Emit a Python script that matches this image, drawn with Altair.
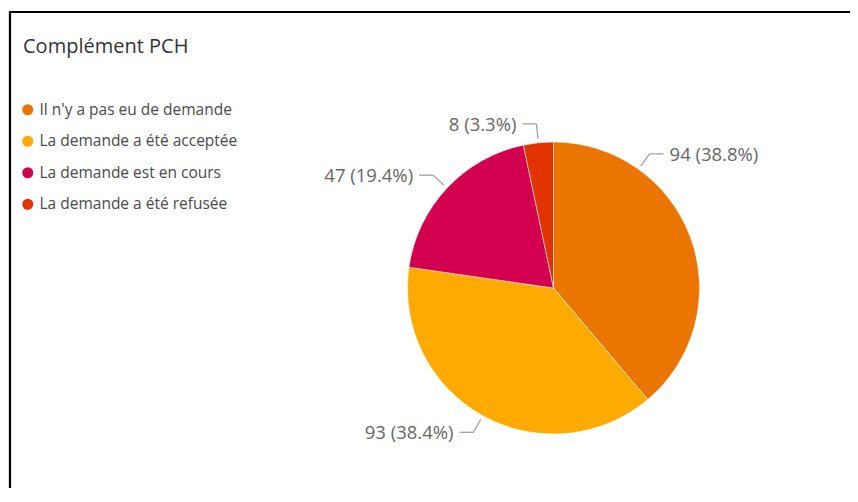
import math
import altair as alt
import pandas as pd

# ---- data ----
categories = [
    "Il n'y a pas eu de demande",
    "La demande a été acceptée",
    "La demande est en cours",
    "La demande a été refusée",
]
counts = [94, 93, 47, 8]
colors = ["#EA7500", "#FFAA00", "#D2004E", "#E23400"]
title_text = "Complément PCH"

# ---- layout ----
W, H = 842, 480
CX, CY = 545.5, 280
R = 146
R_START = 150
R_ELBOW = 165
HSEG = 14
GAP = 6
FONT = "Open Sans"
# the first connector sits off the slice's mid-angle in the reference
LABEL_ANGLE_OVERRIDE = {0: 35.6}

total = sum(counts)
rows = []
cum = 0
for i, (c, v) in enumerate(zip(categories, counts)):
    mid = (cum + v / 2) / total * 360
    cum += v
    ang = LABEL_ANGLE_OVERRIDE.get(i, mid)
    a = math.radians(ang)
    sx, sy = math.sin(a), -math.cos(a)
    x0, y0 = CX + R_START * sx, CY + R_START * sy
    x1, y1 = CX + R_ELBOW * sx, CY + R_ELBOW * sy
    side = "R" if sx >= 0 else "L"
    x2 = x1 + HSEG if side == "R" else x1 - HSEG
    tx = x2 + GAP if side == "R" else x2 - GAP
    rows.append(dict(cat=c, value=v, order=i,
                     label=f"{v} ({v / total * 100:.1f}%)",
                     x0=x0, y0=y0, x1=x1, y1=y1, x2=x2, tx=tx, side=side))
df = pd.DataFrame(rows)

base = alt.Chart(df)

pie = base.mark_arc(radius=R, stroke="white", strokeWidth=0.5).encode(
    theta=alt.Theta("value:Q", stack=True),
    order=alt.Order("order:Q"),
    color=alt.Color(
        "cat:N",
        sort=categories,
        scale=alt.Scale(domain=categories, range=colors),
        legend=alt.Legend(
            title=None, orient="none", legendX=12, legendY=94,
            symbolType="circle", symbolSize=121, symbolStrokeWidth=0,
            labelFont=FONT, labelFontSize=15.5, labelColor="#4a4a4a",
            rowPadding=14.5, labelOffset=4, labelLimit=400,
        ),
    ),
    x=alt.value(CX),
    y=alt.value(CY),
)

line_color = "#9a9a9a"
conn1 = base.mark_rule(color=line_color, strokeWidth=1.2).encode(
    x=alt.X("x0:Q", scale=None, axis=None),
    y=alt.Y("y0:Q", scale=None, axis=None),
    x2="x1:Q", y2="y1:Q",
)
conn2 = base.mark_rule(color=line_color, strokeWidth=1.2).encode(
    x=alt.X("x1:Q", scale=None, axis=None),
    y=alt.Y("y1:Q", scale=None, axis=None),
    x2="x2:Q", y2="y1:Q",
)
lab_r = base.transform_filter(alt.datum.side == "R").mark_text(
    align="left", baseline="middle", font=FONT, fontSize=18.5, color="#666666", dy=1
).encode(
    x=alt.X("tx:Q", scale=None, axis=None),
    y=alt.Y("y1:Q", scale=None, axis=None),
    text="label:N",
)
lab_l = base.transform_filter(alt.datum.side == "L").mark_text(
    align="right", baseline="middle", font=FONT, fontSize=18.5, color="#666666", dy=1
).encode(
    x=alt.X("tx:Q", scale=None, axis=None),
    y=alt.Y("y1:Q", scale=None, axis=None),
    text="label:N",
)

one = alt.Chart(pd.DataFrame({"k": [0]}))
title = one.mark_text(
    align="left", baseline="middle", font=FONT, fontSize=20, color="#333333"
).encode(x=alt.value(15), y=alt.value(39), text=alt.value(title_text))

border_top = one.mark_rule(color="black", strokeWidth=2.2).encode(
    x=alt.value(1), x2=alt.value(W), y=alt.value(4)
)
border_left = one.mark_rule(color="black", strokeWidth=2.2).encode(
    x=alt.value(2), y=alt.value(3), y2=alt.value(H)
)
border_shadow = one.mark_rule(color="#dddddd", strokeWidth=1).encode(
    x=alt.value(0.5), y=alt.value(4), y2=alt.value(H)
)

chart = alt.layer(
    pie, conn1, conn2, lab_r, lab_l, title, border_top, border_left, border_shadow
).properties(
    width=W, height=H, padding=0,
    autosize=alt.AutoSizeParams(type="none"),
    background="white",
).configure_view(stroke=None)

chart.save("out.html", embed_options={"renderer": "svg", "actions": False})
